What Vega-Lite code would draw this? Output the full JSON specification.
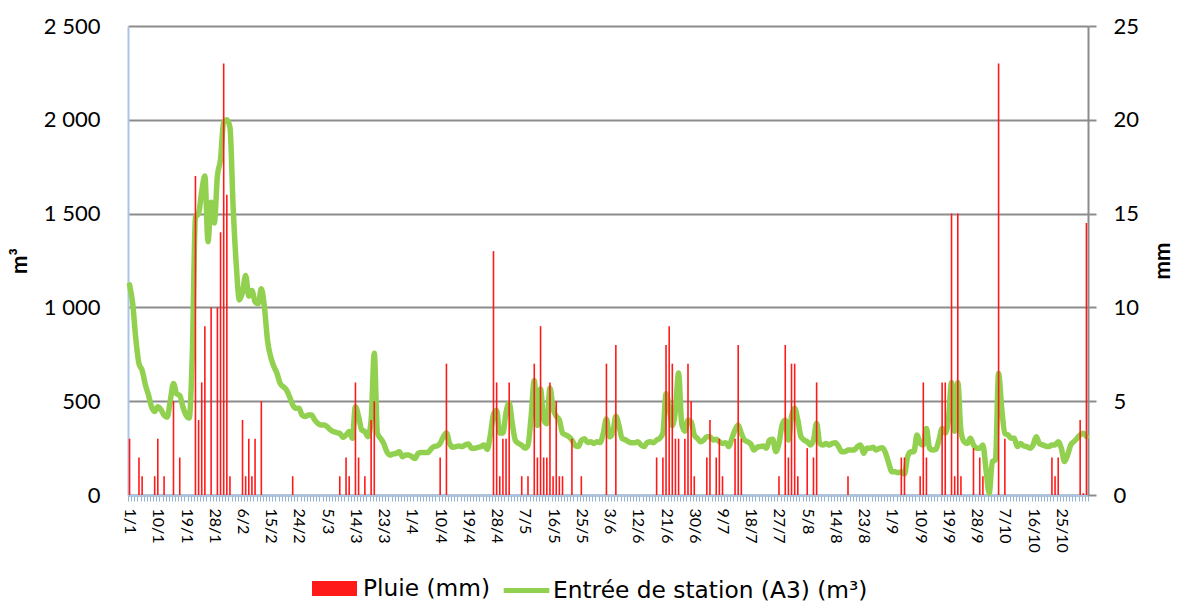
{
"$schema": "https://vega.github.io/schema/vega-lite/v6.json",
"width": 960, "height": 469,
"autosize": {"type": "none"},
"padding": {"left": 128, "top": 26, "right": 91, "bottom": 107},
"background": "white",
"config": {"view": {"stroke": null}, "font": "Lato", "axis": {"labelFont": "Lato", "titleFont": "Lato", "labelColor": "black", "titleColor": "black"}, "legend": {"labelFont": "DejaVu Sans", "labelColor": "black", "labelLimit": 600}},
"data": {"values": [
{"d":"1/1","m":1120,"p":3},{"d":"2/1","m":1020},{"d":"3/1","m":830},{"d":"4/1","m":700,"p":2},{"d":"5/1","m":665,"p":1},{"d":"6/1","m":590},{"d":"7/1","m":535},{"d":"8/1","m":470},{"d":"9/1","m":445,"p":1},{"d":"10/1","m":470,"p":3},
{"d":"11/1","m":455},{"d":"12/1","m":425,"p":1},{"d":"13/1","m":415},{"d":"14/1","m":505},{"d":"15/1","m":595,"p":5},{"d":"16/1","m":540},{"d":"17/1","m":530,"p":2},{"d":"18/1","m":470},{"d":"19/1","m":425},{"d":"20/1","m":410},
{"d":"21/1","m":750},{"d":"22/1","m":1480,"p":17},{"d":"23/1","m":1500,"p":4},{"d":"24/1","m":1620,"p":6},{"d":"25/1","m":1700,"p":9},{"d":"26/1","m":1350},{"d":"27/1","m":1560,"p":10},{"d":"28/1","m":1450},{"d":"29/1","m":1700,"p":10},{"d":"30/1","m":1790,"p":14},
{"d":"31/1","m":1990,"p":23},{"d":"1/2","m":2000,"p":16},{"d":"2/2","m":1960,"p":1},{"d":"3/2","m":1540},{"d":"4/2","m":1230},{"d":"5/2","m":1040},{"d":"6/2","m":1080,"p":4},{"d":"7/2","m":1170,"p":1},{"d":"8/2","m":1060,"p":3},{"d":"9/2","m":1090,"p":1},
{"d":"10/2","m":1030,"p":3},{"d":"11/2","m":1020},{"d":"12/2","m":1100,"p":5},{"d":"13/2","m":1000},{"d":"14/2","m":820},{"d":"15/2","m":735},{"d":"16/2","m":685},{"d":"17/2","m":648},{"d":"18/2","m":595},{"d":"19/2","m":577},
{"d":"20/2","m":560},{"d":"21/2","m":524},{"d":"22/2","m":480,"p":1},{"d":"23/2","m":462},{"d":"24/2","m":462},{"d":"25/2","m":426},{"d":"26/2","m":418},{"d":"27/2","m":426},{"d":"28/2","m":426},
{"d":"1/3","m":400},{"d":"2/3","m":382},{"d":"3/3","m":373},{"d":"4/3","m":373},{"d":"5/3","m":364},{"d":"6/3","m":347},{"d":"7/3","m":338},{"d":"8/3","m":332},{"d":"9/3","m":329,"p":1},{"d":"10/3","m":307},
{"d":"11/3","m":320,"p":2},{"d":"12/3","m":338,"p":1},{"d":"13/3","m":302},{"d":"14/3","m":471,"p":6},{"d":"15/3","m":418,"p":2},{"d":"16/3","m":347},{"d":"17/3","m":338,"p":1},{"d":"18/3","m":311},{"d":"19/3","m":400,"p":4},{"d":"20/3","m":755,"p":5},
{"d":"21/3","m":329},{"d":"22/3","m":302},{"d":"23/3","m":275},{"d":"24/3","m":231},{"d":"25/3","m":213},{"d":"26/3","m":219},{"d":"27/3","m":222},{"d":"28/3","m":231},{"d":"29/3","m":204},{"d":"30/3","m":213},{"d":"31/3","m":213},
{"d":"1/4","m":204},{"d":"2/4","m":195},{"d":"3/4","m":222},{"d":"4/4","m":226},{"d":"5/4","m":226},{"d":"6/4","m":226},{"d":"7/4","m":243},{"d":"8/4","m":258},{"d":"9/4","m":261},{"d":"10/4","m":275,"p":2},
{"d":"11/4","m":310},{"d":"12/4","m":330,"p":7},{"d":"13/4","m":275},{"d":"14/4","m":254},{"d":"15/4","m":258},{"d":"16/4","m":261},{"d":"17/4","m":258},{"d":"18/4","m":267},{"d":"19/4","m":272},{"d":"20/4","m":249},
{"d":"21/4","m":249},{"d":"22/4","m":254},{"d":"23/4","m":258},{"d":"24/4","m":267},{"d":"25/4","m":243},{"d":"26/4","m":320},{"d":"27/4","m":430,"p":13},{"d":"28/4","m":450,"p":6},{"d":"29/4","m":330,"p":1},{"d":"30/4","m":330,"p":3},
{"d":"1/5","m":440,"p":3},{"d":"2/5","m":490,"p":6},{"d":"3/5","m":380},{"d":"4/5","m":290},{"d":"5/5","m":275},{"d":"6/5","m":265,"p":1},{"d":"7/5","m":250},{"d":"8/5","m":265,"p":1},{"d":"9/5","m":420},{"d":"10/5","m":610,"p":7},
{"d":"11/5","m":370,"p":2},{"d":"12/5","m":565,"p":9},{"d":"13/5","m":400,"p":2},{"d":"14/5","m":380,"p":2},{"d":"15/5","m":570,"p":6},{"d":"16/5","m":460,"p":1},{"d":"17/5","m":420,"p":5},{"d":"18/5","m":400,"p":1},{"d":"19/5","m":330,"p":1},{"d":"20/5","m":320},
{"d":"21/5","m":311},{"d":"22/5","m":293,"p":3},{"d":"23/5","m":265},{"d":"24/5","m":258},{"d":"25/5","m":290,"p":1},{"d":"26/5","m":300},{"d":"27/5","m":280},{"d":"28/5","m":284},{"d":"29/5","m":275},{"d":"30/5","m":284},{"d":"31/5","m":280},
{"d":"1/6","m":330},{"d":"2/6","m":405,"p":7},{"d":"3/6","m":310},{"d":"4/6","m":330},{"d":"5/6","m":420,"p":8},{"d":"6/6","m":370},{"d":"7/6","m":300},{"d":"8/6","m":295},{"d":"9/6","m":284},{"d":"10/6","m":279},
{"d":"11/6","m":279},{"d":"12/6","m":284},{"d":"13/6","m":267},{"d":"14/6","m":258},{"d":"15/6","m":279},{"d":"16/6","m":284},{"d":"17/6","m":279},{"d":"18/6","m":293,"p":2},{"d":"19/6","m":302},{"d":"20/6","m":330,"p":2},
{"d":"21/6","m":540,"p":8},{"d":"22/6","m":470,"p":9},{"d":"23/6","m":370,"p":7},{"d":"24/6","m":450,"p":3},{"d":"25/6","m":650,"p":3},{"d":"26/6","m":380},{"d":"27/6","m":340,"p":3},{"d":"28/6","m":400,"p":7},{"d":"29/6","m":390,"p":5},{"d":"30/6","m":320,"p":1},
{"d":"1/7","m":302},{"d":"2/7","m":284},{"d":"3/7","m":293},{"d":"4/7","m":311,"p":2},{"d":"5/7","m":311,"p":4},{"d":"6/7","m":293},{"d":"7/7","m":297,"p":2},{"d":"8/7","m":284,"p":3},{"d":"9/7","m":275,"p":1},{"d":"10/7","m":279},
{"d":"11/7","m":258},{"d":"12/7","m":302},{"d":"13/7","m":347,"p":3},{"d":"14/7","m":373,"p":8},{"d":"15/7","m":329,"p":3},{"d":"16/7","m":293},{"d":"17/7","m":284},{"d":"18/7","m":272},{"d":"19/7","m":240},{"d":"20/7","m":254},
{"d":"21/7","m":258},{"d":"22/7","m":261},{"d":"23/7","m":249},{"d":"24/7","m":293},{"d":"25/7","m":297},{"d":"26/7","m":231},{"d":"27/7","m":275,"p":1},{"d":"28/7","m":373},{"d":"29/7","m":400,"p":8},{"d":"30/7","m":293,"p":2},{"d":"31/7","m":418,"p":7},
{"d":"1/8","m":462,"p":7},{"d":"2/8","m":400,"p":1},{"d":"3/8","m":311},{"d":"4/8","m":293},{"d":"5/8","m":284,"p":2.5},{"d":"6/8","m":267},{"d":"7/8","m":293,"p":2},{"d":"8/8","m":382,"p":6},{"d":"9/8","m":275},{"d":"10/8","m":267},
{"d":"11/8","m":275},{"d":"12/8","m":267},{"d":"13/8","m":275},{"d":"14/8","m":279},{"d":"15/8","m":258},{"d":"16/8","m":231},{"d":"17/8","m":231},{"d":"18/8","m":240,"p":1},{"d":"19/8","m":240},{"d":"20/8","m":240},
{"d":"21/8","m":258},{"d":"22/8","m":267},{"d":"23/8","m":222},{"d":"24/8","m":249},{"d":"25/8","m":249},{"d":"26/8","m":254},{"d":"27/8","m":240},{"d":"28/8","m":249},{"d":"29/8","m":252},{"d":"30/8","m":222},{"d":"31/8","m":169},
{"d":"1/9","m":124},{"d":"2/9","m":124},{"d":"3/9","m":119},{"d":"4/9","m":124,"p":2},{"d":"5/9","m":112,"p":2},{"d":"6/9","m":204},{"d":"7/9","m":231},{"d":"8/9","m":231},{"d":"9/9","m":320},{"d":"10/9","m":275,"p":1},
{"d":"11/9","m":267,"p":6},{"d":"12/9","m":355,"p":2},{"d":"13/9","m":249},{"d":"14/9","m":240},{"d":"15/9","m":243},{"d":"16/9","m":293},{"d":"17/9","m":355,"p":6},{"d":"18/9","m":330,"p":6},{"d":"19/9","m":400},{"d":"20/9","m":600,"p":15},
{"d":"21/9","m":340,"p":1},{"d":"22/9","m":600,"p":15},{"d":"23/9","m":340,"p":1},{"d":"24/9","m":284},{"d":"25/9","m":275},{"d":"26/9","m":302},{"d":"27/9","m":267,"p":2.5},{"d":"28/9","m":249},{"d":"29/9","m":249,"p":2},{"d":"30/9","m":267,"p":1},
{"d":"1/10","m":133},{"d":"2/10","m":9},{"d":"3/10","m":178},{"d":"4/10","m":187},{"d":"5/10","m":648,"p":23},{"d":"6/10","m":462},{"d":"7/10","m":329,"p":3},{"d":"8/10","m":320},{"d":"9/10","m":302},{"d":"10/10","m":302},
{"d":"11/10","m":258},{"d":"12/10","m":275},{"d":"13/10","m":261},{"d":"14/10","m":258},{"d":"15/10","m":249},{"d":"16/10","m":267},{"d":"17/10","m":311},{"d":"18/10","m":275},{"d":"19/10","m":267},{"d":"20/10","m":261},
{"d":"21/10","m":258},{"d":"22/10","m":267,"p":2},{"d":"23/10","m":267,"p":1},{"d":"24/10","m":284,"p":2},{"d":"25/10","m":249},{"d":"26/10","m":178},{"d":"27/10","m":213},{"d":"28/10","m":267},{"d":"29/10","m":284},{"d":"30/10","m":302},{"d":"31/10","m":320,"p":4},
{"d":"1/11","m":329,"p":0.1},{"d":"2/11","m":311,"p":14.5}
]},
"encoding": {
  "x": {"field": "d", "type": "ordinal", "sort": null,
        "scale": {"type": "band", "paddingInner": 0, "paddingOuter": 0},
        "axis": {"title": null, "tickBand": "extent",
                 "labelExpr": "indexof(['1/1','10/1','19/1','28/1','6/2','15/2','24/2','5/3','14/3','23/3','1/4','10/4','19/4','28/4','7/5','16/5','25/5','3/6','12/6','21/6','30/6','9/7','18/7','27/7','5/8','14/8','23/8','1/9','10/9','19/9','28/9','7/10','16/10','25/10'], datum.value) >= 0 ? datum.value : ''",
                 "labelAngle": 90, "labelOverlap": false, "labelFontSize": 16, "labelPadding": 7,
                 "tickSize": 6, "tickWidth": 1, "tickColor": "#94b3da",
                 "domainColor": "#a9c4e4", "domainWidth": 2, "grid": false}}
},
"layer": [
  {"mark": {"type": "line", "strokeWidth": 5.5, "interpolate": "monotone", "strokeCap": "round", "strokeJoin": "round"},
   "encoding": {
     "y": {"field": "m", "type": "quantitative", "scale": {"domain": [0, 2500]},
           "axis": {"orient": "left", "values": [0, 500, 1000, 1500, 2000, 2500],
                    "labelExpr": "replace(format(datum.value, ','), ',', ' ')",
                    "title": "m³", "titleFontSize": 22, "titleFontWeight": "bold", "titlePadding": 12,
                    "labelFontSize": 22, "ticks": false, "labelPadding": 28,
                    "domainColor": "#a9c4e4", "domainWidth": 2,
                    "grid": true, "gridColor": "#8c8c8c", "gridWidth": 2}},
     "stroke": {"datum": "Entrée de station (A3) (m³)", "scale": {"range": ["#92d050"]},
                "legend": {"orient": "none", "legendX": 372, "legendY": 538, "title": null, "padding": 0,
                           "symbolType": "M-0.95,0H0.95", "symbolSize": 2304, "symbolStrokeWidth": 5,
                           "labelFontSize": 23.3, "labelOffset": 0}}
   }},
  {"mark": {"type": "bar", "width": 1.6},
   "encoding": {
     "y": {"field": "p", "type": "quantitative", "scale": {"domain": [0, 25]},
           "axis": {"orient": "right", "values": [0, 5, 10, 15, 20, 25],
                    "title": "mm", "titleFontSize": 22, "titleFontWeight": "bold", "titleAngle": -90, "titlePadding": 36,
                    "labelFontSize": 22, "tickSize": 8, "tickWidth": 2, "tickColor": "#8c8c8c", "labelPadding": 17,
                    "domainColor": "#8c8c8c", "domainWidth": 2, "grid": false}},
     "fill": {"datum": "Pluie (mm)", "scale": {"range": ["#ff1a1a"]},
              "legend": {"orient": "none", "legendX": 184, "legendY": 540, "title": null, "padding": 0,
                         "symbolType": "M-1,-0.33H1V0.33H-1Z", "symbolSize": 2025, "symbolStrokeWidth": 0,
                         "labelFontSize": 23.3, "labelOffset": 6}}
   }}
],
"resolve": {"scale": {"y": "independent"}}
}
